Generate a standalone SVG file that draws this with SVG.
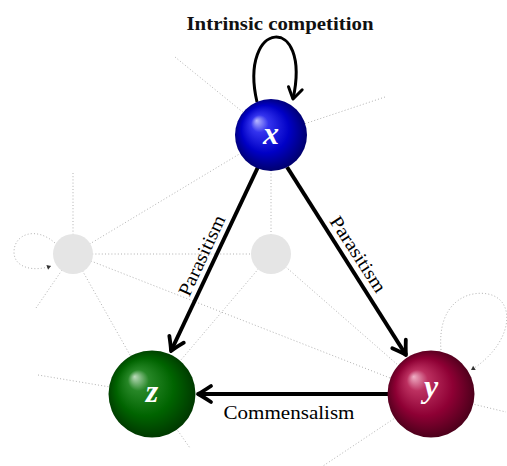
<svg xmlns="http://www.w3.org/2000/svg" width="507" height="466" viewBox="0 0 507 466">
<style>
.dot{fill:none;stroke:#a8a8a8;stroke-width:0.9;stroke-dasharray:1 2.2}
.edge{fill:none;stroke:#000;stroke-width:4}
.loop{fill:none;stroke:#000;stroke-width:3}
.lbl{font-family:"Liberation Serif",serif;font-size:19px;fill:#000}
.title{font-family:"Liberation Serif",serif;font-size:18.5px;font-weight:bold;fill:#111}
.var{font-family:"Liberation Serif",serif;font-style:italic;font-weight:bold;font-size:32px;fill:#fff}
.ghost{fill:#e5e5e5}
</style>
<defs>
<radialGradient id="gBlue" cx="0.5" cy="0.5" r="0.55" fx="0.3" fy="0.3">
<stop offset="0" stop-color="#b8b8ff"/><stop offset="0.22" stop-color="#3434ee"/><stop offset="0.6" stop-color="#0000c6"/><stop offset="1" stop-color="#00005e"/>
</radialGradient>
<radialGradient id="gGreen" cx="0.5" cy="0.5" r="0.55" fx="0.3" fy="0.3">
<stop offset="0" stop-color="#bcdcbc"/><stop offset="0.22" stop-color="#278727"/><stop offset="0.6" stop-color="#006400"/><stop offset="1" stop-color="#003000"/>
</radialGradient>
<radialGradient id="gRed" cx="0.5" cy="0.5" r="0.55" fx="0.3" fy="0.3">
<stop offset="0" stop-color="#f0b0c6"/><stop offset="0.22" stop-color="#bc3060"/><stop offset="0.6" stop-color="#8e0034"/><stop offset="1" stop-color="#400016"/>
</radialGradient>
<marker id="arr" markerUnits="userSpaceOnUse" orient="auto" overflow="visible" markerWidth="1" markerHeight="1" refX="0" refY="0">
<path d="M-13,-8 Q-4,-2 0,0 Q-4,2 -13,8" fill="none" stroke="#000" stroke-width="3.8" stroke-linecap="round" stroke-linejoin="round"/>
</marker>
<marker id="arrS" markerUnits="userSpaceOnUse" orient="auto" overflow="visible" markerWidth="1" markerHeight="1" refX="0" refY="0">
<path d="M-11,-7 Q-3,-2 0,0 Q-3,2 -11,7" fill="none" stroke="#000" stroke-width="3" stroke-linecap="round" stroke-linejoin="round"/>
</marker>
<marker id="arrD" markerUnits="userSpaceOnUse" orient="auto" overflow="visible" markerWidth="1" markerHeight="1" refX="0" refY="0">
<path d="M-4,-2.5 L0,0 L-4,2.5 Z" fill="#333"/>
</marker>
</defs>

<g id="background-links">
<line class="dot" x1="175" y1="57" x2="271" y2="135"/>
<line class="dot" x1="385" y1="97" x2="271" y2="135"/>
<line class="dot" x1="271" y1="135" x2="271" y2="254"/>
<line class="dot" x1="73" y1="254" x2="271" y2="135"/>
<line class="dot" x1="73" y1="254" x2="271" y2="254"/>
<line class="dot" x1="73" y1="173" x2="73" y2="254"/>
<line class="dot" x1="73" y1="254" x2="431" y2="394"/>
<line class="dot" x1="36" y1="308" x2="73" y2="254"/>
<line class="dot" x1="73" y1="254" x2="152" y2="394"/>
<line class="dot" x1="271" y1="254" x2="431" y2="394"/>
<line class="dot" x1="271" y1="254" x2="152" y2="394"/>
<line class="dot" x1="38" y1="375" x2="152" y2="394"/>
<line class="dot" x1="152" y1="394" x2="190" y2="448"/>
<line class="dot" x1="431" y1="394" x2="506" y2="412"/>
<line class="dot" x1="431" y1="394" x2="323" y2="466"/>
<path class="dot" d="M55,243 C36,226 14,234 14,252 C14,268 34,272 51,266" marker-end="url(#arrD)"/>
<path class="dot" d="M441,350 C437,302 468,290 488,294 C518,300 512,345 471,370" marker-end="url(#arrD)"/>
</g>

<g id="node-ghost1"><circle class="ghost" cx="73" cy="254" r="20"/></g>
<g id="node-ghost2"><circle class="ghost" cx="271" cy="254" r="20"/></g>

<g id="connectors">
<path class="loop" d="M257,102 C238,20 312,12 293,99" marker-end="url(#arrS)"/>
<line class="edge" x1="258" y1="167" x2="171" y2="351" marker-end="url(#arr)"/>
<line class="edge" x1="287" y1="167" x2="406" y2="355" marker-end="url(#arr)"/>
<line class="edge" x1="388" y1="394" x2="198" y2="394" marker-end="url(#arr)"/>
<text class="title" x="280" y="30" text-anchor="middle" textLength="187" lengthAdjust="spacingAndGlyphs">Intrinsic competition</text>
<text class="lbl" transform="translate(203,256) rotate(-65)" x="0" y="5" text-anchor="middle" textLength="87" lengthAdjust="spacingAndGlyphs">Parasitism</text>
<text class="lbl" transform="translate(357,255) rotate(57)" x="0" y="5" text-anchor="middle" textLength="87" lengthAdjust="spacingAndGlyphs">Parasitism</text>
<text class="lbl" x="289" y="419" text-anchor="middle" textLength="131" lengthAdjust="spacingAndGlyphs">Commensalism</text>
</g>

<g id="node-x">
<circle cx="271" cy="135" r="36" fill="url(#gBlue)"/>
<text class="var" x="271" y="144" text-anchor="middle">x</text>
</g>
<g id="node-z">
<circle cx="152" cy="394" r="43.5" fill="url(#gGreen)"/>
<text class="var" x="152" y="402" text-anchor="middle">z</text>
</g>
<g id="node-y">
<circle cx="431" cy="394" r="43.5" fill="url(#gRed)"/>
<text class="var" x="431" y="397" text-anchor="middle">y</text>
</g>
</svg>
